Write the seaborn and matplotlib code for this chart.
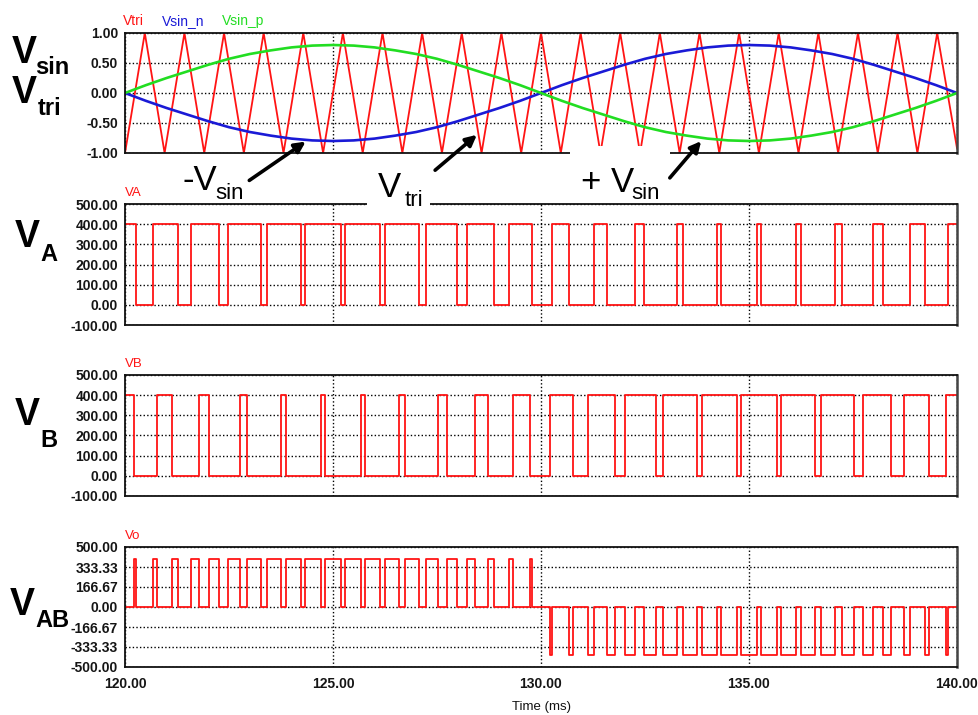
import numpy as np
import pandas as pd
import matplotlib
matplotlib.use("Agg")
import matplotlib.pyplot as plt
import seaborn as sns
from matplotlib.patches import FancyArrowPatch, Rectangle

# ---------------- data ----------------
sin_t = [120.0, 120.5, 121.0, 121.5, 122.0, 122.5, 123.0, 123.5, 124.0, 124.5,
         125.0, 125.5, 126.0, 126.5, 127.0, 127.5, 128.0, 128.5, 129.0, 129.5,
         130.0, 130.5, 131.0, 131.5, 132.0, 132.5, 133.0, 133.5, 134.0, 134.5,
         135.0, 135.5, 136.0, 136.5, 137.0, 137.5, 138.0, 138.5, 139.0, 139.5, 140.0]
vsin_p = [0.00, 0.13, 0.25, 0.36, 0.47, 0.57, 0.65, 0.71, 0.76, 0.79,
          0.80, 0.79, 0.76, 0.71, 0.65, 0.57, 0.47, 0.36, 0.25, 0.13,
          0.00, -0.13, -0.25, -0.36, -0.47, -0.57, -0.65, -0.71, -0.76, -0.79,
          -0.80, -0.79, -0.76, -0.71, -0.65, -0.57, -0.47, -0.36, -0.25, -0.13, 0.00]
vsin_n = [0.00, -0.13, -0.25, -0.36, -0.47, -0.57, -0.65, -0.71, -0.76, -0.79,
          -0.80, -0.79, -0.76, -0.71, -0.65, -0.57, -0.47, -0.36, -0.25, -0.13,
          0.00, 0.13, 0.25, 0.36, 0.47, 0.57, 0.65, 0.71, 0.76, 0.79,
          0.80, 0.79, 0.76, 0.71, 0.65, 0.57, 0.47, 0.36, 0.25, 0.13, 0.00]

tri_t = [120.000, 120.476, 120.952, 121.429, 121.905, 122.381, 122.857, 123.333,
         123.810, 124.286, 124.762, 125.238, 125.714, 126.190, 126.667, 127.143,
         127.619, 128.095, 128.571, 129.048, 129.524, 130.000, 130.476, 130.952,
         131.429, 131.905, 132.381, 132.857, 133.333, 133.810, 134.286, 134.762,
         135.238, 135.714, 136.190, 136.667, 137.143, 137.619, 138.095, 138.571,
         139.048, 139.524, 140.000]
tri_v = [-1, 1, -1, 1, -1, 1, -1, 1, -1, 1, -1, 1, -1, 1, -1, 1, -1, 1, -1, 1, -1,
         1, -1, 1, -1, 1, -1, 1, -1, 1, -1, 1, -1, 1, -1, 1, -1, 1, -1, 1, -1, 1, -0.92]

# switching instants (ms) of the two leg voltages, both start at 400 V
va_start = 400
va_edges = [120.253, 120.674, 121.264, 121.576, 122.267, 122.485, 123.258, 123.404,
            124.233, 124.337, 125.190, 125.287, 126.131, 126.253, 127.057, 127.236,
            127.970, 128.233, 128.875, 129.241, 129.775, 130.253, 130.674, 131.264,
            131.576, 132.267, 132.485, 133.258, 133.404, 134.233, 134.337, 135.190,
            135.287, 136.131, 136.253, 137.057, 137.236, 137.970, 138.233, 138.875,
            139.241, 139.775]
vb_start = 400
vb_edges = [120.225, 120.759, 121.125, 121.767, 122.030, 122.764, 122.943, 123.747,
            123.869, 124.713, 124.810, 125.663, 125.767, 126.596, 126.742, 127.515,
            127.733, 128.424, 128.736, 129.326, 129.747, 130.225, 130.759, 131.125,
            131.767, 132.030, 132.764, 132.943, 133.747, 133.869, 134.713, 134.810,
            135.663, 135.767, 136.596, 136.742, 137.515, 137.733, 138.424, 138.736,
            139.326, 139.747]

x_ticks = [120, 125, 130, 135, 140]
x_labels = ["120.00", "125.00", "130.00", "135.00", "140.00"]
y1_ticks = [1.0, 0.5, 0.0, -0.5, -1.0]
y1_labels = ["1.00", "0.50", "0.00", "-0.50", "-1.00"]
y2_ticks = [500, 400, 300, 200, 100, 0, -100]
y2_labels = ["500.00", "400.00", "300.00", "200.00", "100.00", "0.00", "-100.00"]
y4_ticks = [500, 333.33, 166.67, 0, -166.67, -333.33, -500]
y4_labels = ["500.00", "333.33", "166.67", "0.00", "-166.67", "-333.33", "-500.00"]

# ---------------- style ----------------
sns.set_theme(style="white")
plt.rcParams["font.family"] = ["Liberation Sans", "DejaVu Sans"]

RED = "#ff1414"
BLUE = "#1a1ad6"
GREEN = "#22dd22"

W, H = 979, 715
fig = plt.figure(figsize=(W / 100, H / 100), dpi=100, facecolor="white")


def fx(x):
    return x / W


def fy(y):
    return 1 - y / H


def make_ax(top, bottom):
    return fig.add_axes([fx(125), fy(bottom), 832 / W, (bottom - top) / H])


def step_frame(start, edges, other):
    xs = [120.0] + list(edges) + [140.0]
    ys = []
    lvl = start
    ys.append(lvl)
    for _ in edges:
        lvl = other if lvl == start else start
        ys.append(lvl)
    ys.append(lvl)
    return pd.DataFrame({"t": xs, "v": ys})


def level_at(start, edges, other, t):
    n = np.searchsorted(np.asarray(edges), t, side="right")
    return np.where(n % 2 == 0, start, other)


def style_ax(ax, yt, yl, ylim, show_x=False):
    ax.set_xlim(120, 140)
    ax.set_ylim(*ylim)
    ax.set_yticks(yt)
    ax.set_yticklabels(yl, fontsize=10, color="#151515", fontweight="bold")
    ax.set_xticks(x_ticks)
    if show_x:
        ax.set_xticklabels(x_labels, fontsize=10, color="#151515", fontweight="bold")
    else:
        ax.set_xticklabels([])
    ax.tick_params(length=0, pad=5)
    ax.tick_params(axis="x", pad=7)
    ax.grid(True, color="black", linestyle=(0, (1, 1.6)), linewidth=1.0)
    ax.set_axisbelow(True)
    for s in ax.spines.values():
        s.set_color("#111111")
        s.set_linewidth(1.3)
    ax.spines["right"].set_color("#444444")
    ax.spines["right"].set_linewidth(1.8)
    ax.set_xlabel("")
    ax.set_ylabel("")


# ---------------- panel 1: Vsin / Vtri ----------------
ax1 = make_ax(33, 153)
df_tri = pd.DataFrame({"t": tri_t, "v": tri_v})
df_sin = pd.DataFrame({"t": sin_t, "p": vsin_p, "n": vsin_n})
sns.lineplot(data=df_tri, x="t", y="v", ax=ax1, color=RED, lw=1.3,
             estimator=None, sort=False, legend=False)
sns.lineplot(data=df_sin, x="t", y="n", ax=ax1, color=BLUE, lw=1.9,
             estimator=None, sort=False, legend=False)
sns.lineplot(data=df_sin, x="t", y="p", ax=ax1, color=GREEN, lw=1.9,
             estimator=None, sort=False, legend=False)
style_ax(ax1, y1_ticks, y1_labels, (-1, 1))

# ---------------- panel 2: VA ----------------
ax2 = make_ax(204, 325)
df_va = step_frame(va_start, va_edges, 0)
sns.lineplot(data=df_va, x="t", y="v", ax=ax2, color=RED, lw=1.3,
             drawstyle="steps-post", estimator=None, sort=False, legend=False)
style_ax(ax2, y2_ticks, y2_labels, (-100, 500))

# ---------------- panel 3: VB ----------------
ax3 = make_ax(375, 496)
df_vb = step_frame(vb_start, vb_edges, 0)
sns.lineplot(data=df_vb, x="t", y="v", ax=ax3, color=RED, lw=1.3,
             drawstyle="steps-post", estimator=None, sort=False, legend=False)
style_ax(ax3, y2_ticks, y2_labels, (-100, 500))

# ---------------- panel 4: Vo = VA - VB ----------------
ax4 = make_ax(547, 667)
t_all = np.array(sorted(set([120.0] + va_edges + vb_edges + [140.0])))
vo = level_at(va_start, va_edges, 0, t_all) - level_at(vb_start, vb_edges, 0, t_all)
df_vo = pd.DataFrame({"t": t_all, "v": vo})
sns.lineplot(data=df_vo, x="t", y="v", ax=ax4, color=RED, lw=1.3,
             drawstyle="steps-post", estimator=None, sort=False, legend=False)
style_ax(ax4, y4_ticks, y4_labels, (-500, 500), show_x=True)

# ---------------- small series labels ----------------
fig.text(fx(123), fy(25), "Vtri", color=RED, fontsize=10, va="baseline")
fig.text(fx(162), fy(25), "Vsin_n", color=BLUE, fontsize=10, va="baseline")
fig.text(fx(222), fy(25), "Vsin_p", color=GREEN, fontsize=10, va="baseline")
fig.text(fx(125), fy(196), "VA", color=RED, fontsize=9.5, va="baseline")
fig.text(fx(125), fy(367), "VB", color=RED, fontsize=9.5, va="baseline")
fig.text(fx(125), fy(539), "Vo", color=RED, fontsize=9.5, va="baseline")
fig.text(fx(542), fy(710), "Time (ms)", color="#111111", fontsize=9.5,
         ha="center", va="baseline")

# ---------------- big left labels ----------------
def big_label(x, y, main, sub, xs, ys, size=27, subsize=17):
    fig.text(fx(x), fy(y), main, fontsize=size, fontweight="bold",
             va="baseline", ha="left", color="black")
    fig.text(fx(xs), fy(ys), sub, fontsize=subsize, fontweight="bold",
             va="baseline", ha="left", color="black")


big_label(12, 63, "V", "sin", 35, 74)
big_label(12, 103, "V", "tri", 38, 115)
big_label(15, 247, "V", "A", 40, 261)
big_label(15, 425, "V", "B", 40, 447)
big_label(10, 615, "V", "AB", 35, 627)

# ---------------- annotations ----------------
fig.add_artist(Rectangle((fx(570), fy(200)), 100 / W, 54 / H, transform=fig.transFigure,
                         facecolor="white", edgecolor="none", zorder=5))
fig.add_artist(Rectangle((fx(367), fy(207)), 63 / W, 47 / H, transform=fig.transFigure,
                         facecolor="white", edgecolor="none", zorder=5))


def ann_text(x, y, main, sub, xs, ys, size=25, subsize=16):
    fig.text(fx(x), fy(y), main, fontsize=size, va="baseline", ha="left",
             color="black", zorder=7)
    fig.text(fx(xs), fy(ys), sub, fontsize=subsize, va="baseline", ha="left",
             color="black", zorder=7)


ann_text(183, 190, "-V", "sin", 215, 199)
ann_text(378, 197, "V", "tri", 405, 206)
ann_text(581, 192, "+ V", "sin", 631, 199)


def arrow(x0, y0, x1, y1):
    fig.add_artist(FancyArrowPatch((fx(x0), fy(y0)), (fx(x1), fy(y1)),
                                   transform=fig.transFigure, arrowstyle="-|>",
                                   mutation_scale=16, lw=2.6, color="black", zorder=8))


arrow(247, 182, 308, 140)
arrow(433, 172, 479, 133)
arrow(668, 180, 703, 139)

fig.savefig("out.png", dpi=100, facecolor="white")
